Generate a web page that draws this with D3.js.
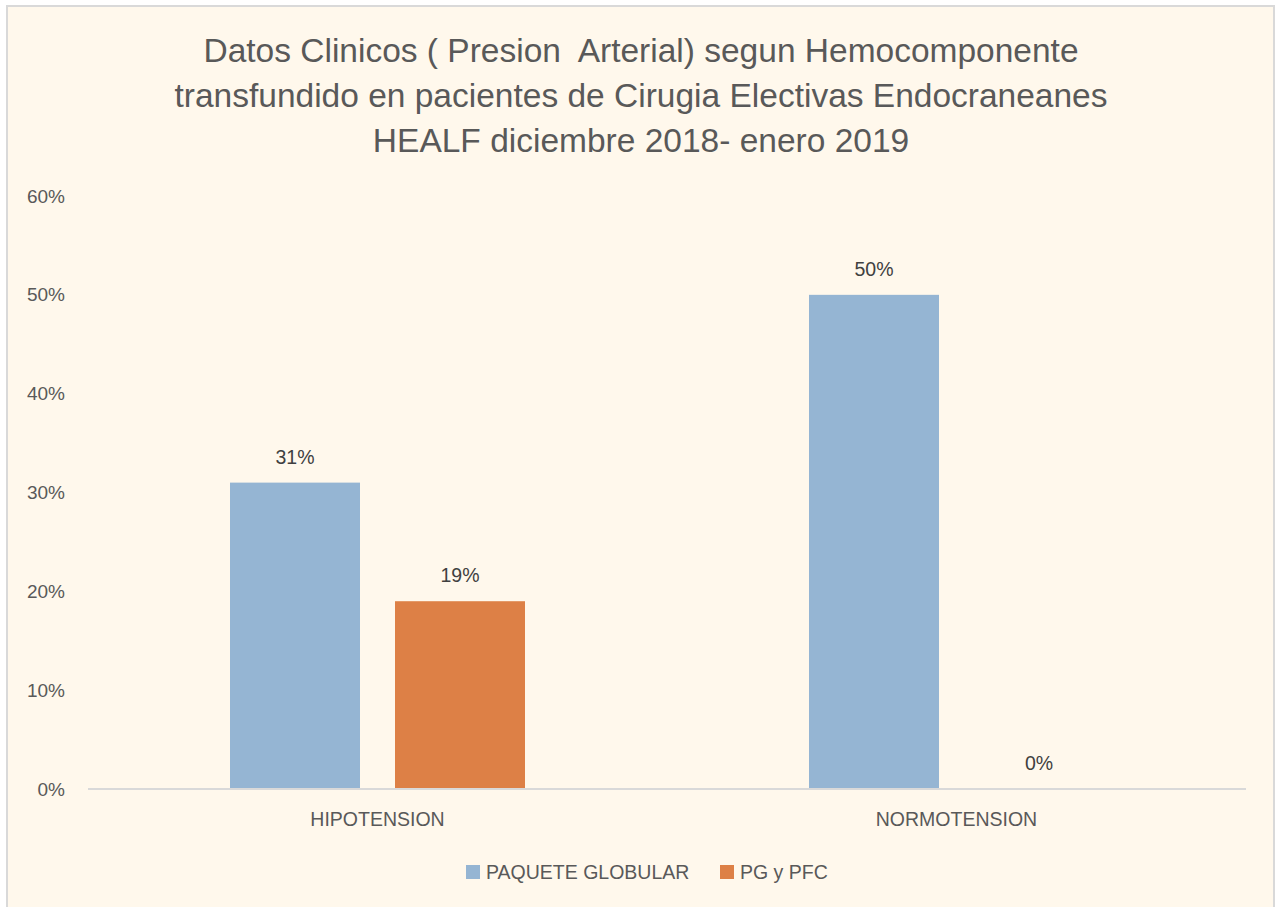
<!DOCTYPE html>
<html>
<head>
<meta charset="utf-8">
<script src="https://cdn.jsdelivr.net/npm/d3@7"></script>
<style>
  body { margin: 0; background: #fff; }
  svg { display: block; font-family: "Liberation Sans", "DejaVu Sans", sans-serif; }
</style>
</head>
<body>
<div id="chart"></div>
<script>
const categories = ["HIPOTENSION", "NORMOTENSION"];
const seriesNames = ["PAQUETE GLOBULAR", "PG y PFC"];
const paqueteGlobular = [0.31, 0.50];
const pgYPfc = [0.19, 0.00];
const yTicks = [0, 0.1, 0.2, 0.3, 0.4, 0.5, 0.6];
const titleLines = [
    "Datos Clinicos ( Presion  Arterial) segun Hemocomponente",
    "transfundido en pacientes de Cirugia Electivas Endocraneanes",
    "HEALF diciembre 2018- enero 2019"
];

const colors = ["#95B5D3", "#DD8046"];
const textColor = "#595959";

const width = 1277;
const height = 907;
const margin = { top: 196, right: 31, bottom: 118, left: 88 };

const svg = d3.select("#chart")
    .append("svg")
    .attr("width", width)
    .attr("height", height);

// chart background + border
svg.append("rect")
    .attr("x", 7).attr("y", 6)
    .attr("width", 1267).attr("height", 920)
    .attr("fill", "#FFF8EC")
    .attr("stroke", "#D9D9D9")
    .attr("stroke-width", 2);

// title
svg.append("g")
    .selectAll("text")
    .data(titleLines)
    .enter()
    .append("text")
    .attr("x", 641)
    .attr("y", (d, i) => 62 + i * 45)
    .attr("text-anchor", "middle")
    .attr("font-size", 33.5)
    .attr("fill", textColor)
    .style("white-space", "pre")
    .text(d => d);

const x0 = d3.scaleBand()
    .domain(categories)
    .range([margin.left, width - margin.right])
    .paddingInner(0)
    .paddingOuter(0);

const x1 = d3.scaleBand()
    .domain(seriesNames)
    .range([142, x0.bandwidth() - 142])
    .paddingInner(35 / 295 * 2 / (1 + 35 / 295))
    .paddingOuter(0);

const y = d3.scaleLinear()
    .domain([0, 0.6])
    .range([height - margin.bottom, margin.top]);

// y tick labels
svg.append("g")
    .selectAll("text")
    .data(yTicks)
    .enter()
    .append("text")
    .attr("x", 65)
    .attr("y", d => y(d))
    .attr("dy", "0.35em")
    .attr("text-anchor", "end")
    .attr("font-size", 19)
    .attr("fill", textColor)
    .text(d => d3.format(".0%")(d));

// bars
const groups = svg.append("g")
    .selectAll("g")
    .data(categories)
    .enter()
    .append("g")
    .attr("transform", d => `translate(${x0(d)},0)`);

const rows = (d, i) => [
    { name: seriesNames[0], value: paqueteGlobular[i], color: colors[0] },
    { name: seriesNames[1], value: pgYPfc[i], color: colors[1] }
];

groups.selectAll("rect")
    .data(rows)
    .enter()
    .append("rect")
    .attr("x", d => x1(d.name))
    .attr("y", d => y(d.value))
    .attr("width", x1.bandwidth())
    .attr("height", d => y(0) - y(d.value))
    .attr("fill", d => d.color);

groups.selectAll("text")
    .data(rows)
    .enter()
    .append("text")
    .attr("x", d => x1(d.name) + x1.bandwidth() / 2)
    .attr("y", d => y(d.value) - 19)
    .attr("text-anchor", "middle")
    .attr("font-size", 19.5)
    .attr("fill", "#404040")
    .text(d => d3.format(".0%")(d.value));

// zero axis line
svg.append("line")
    .attr("x1", margin.left)
    .attr("x2", width - margin.right)
    .attr("y1", y(0))
    .attr("y2", y(0))
    .attr("stroke", "#D9D9D9")
    .attr("stroke-width", 2);

// category labels
svg.append("g")
    .selectAll("text")
    .data(categories)
    .enter()
    .append("text")
    .attr("x", d => x0(d) + x0.bandwidth() / 2)
    .attr("y", y(0) + 37)
    .attr("text-anchor", "middle")
    .attr("font-size", 19.5)
    .attr("fill", textColor)
    .text(d => d);

// legend
const legendX = [466, 720];
const legend = svg.append("g")
    .selectAll("g")
    .data(seriesNames)
    .enter()
    .append("g")
    .attr("transform", (d, i) => `translate(${legendX[i]},865)`);

legend.append("rect")
    .attr("width", 14)
    .attr("height", 14)
    .attr("fill", (d, i) => colors[i]);

legend.append("text")
    .attr("x", 20)
    .attr("y", 7)
    .attr("dy", "0.35em")
    .attr("font-size", 19.5)
    .attr("fill", textColor)
    .text(d => d);
</script>
</body>
</html>
